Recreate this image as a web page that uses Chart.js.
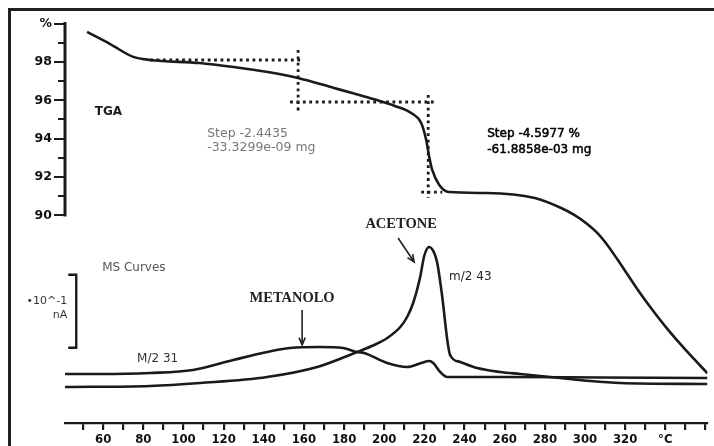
<!DOCTYPE html>
<html lang="en">
<head>
    <meta charset="UTF-8">
    <title>TGA-MS</title>
    <script src="https://cdn.jsdelivr.net/npm/chart.js"></script>
    <style>
        body {
            margin: 0;
            background: #fff;
        }
        .wrap {
            position: relative;
            width: 714px;
            height: 446px;
            overflow: hidden;
        }
        .frame {
            position: absolute;
            left: 8px;
            top: 8px;
            right: -10px;
            bottom: -10px;
            border-top: 3px solid #231f20;
            border-left: 3px solid #231f20;
            pointer-events: none;
        }
        canvas {
            position: absolute;
            left: 0;
            top: 0;
        }
    </style>
</head>
<body>

<div class="wrap">
    <canvas id="tgaChart" width="714" height="446"></canvas>
    <div class="frame"></div>
</div>

<script>
    // TGA mass loss (%) against temperature (°C)
    const tgaTemp = [52, 63.5, 75, 83.4, 108, 125, 142, 157, 175, 185, 195, 205, 214, 218.4, 220.9, 222.4, 223.9, 227.4, 232.3, 251, 275, 288.1, 294.6, 301.1, 306.1, 311.1, 316, 321, 326, 331, 341, 351, 361];
    const tgaMass = [99.56, 98.93, 98.26, 98.10, 97.94, 97.73, 97.47, 97.16, 96.64, 96.35, 96.05, 95.72, 95.30, 94.82, 93.93, 93.05, 92.37, 91.59, 91.22, 91.17, 90.91, 90.39, 90.03, 89.56, 89.09, 88.46, 87.73, 86.95, 86.17, 85.44, 84.09, 82.89, 81.78];

    // MS ion currents, in units of the 10^-1 nA scale bar
    const ms31Temp = [41, 58.5, 83.4, 104.8, 124.8, 141.7, 153.1, 168.1, 179.5, 186.5, 190, 201.5, 211.4, 218.4, 222.4, 224.4, 227.9, 231.4, 257.7, 307.5, 361];
    const ms31 = [0.671, 0.671, 0.685, 0.726, 0.863, 0.973, 1.027, 1.041, 1.027, 0.973, 0.959, 0.822, 0.767, 0.822, 0.849, 0.822, 0.699, 0.630, 0.630, 0.623, 0.616];
    const ms43Temp = [41, 83.4, 108.3, 141.7, 166.6, 186.5, 195, 201.5, 208, 211.4, 214.4, 217.9, 219.9, 222.4, 224.9, 226.4, 228.9, 231.4, 232.8, 237.8, 246.3, 257.7, 267.7, 287.6, 302.6, 317.5, 361];
    const ms43 = [0.493, 0.507, 0.548, 0.630, 0.767, 0.973, 1.068, 1.164, 1.315, 1.452, 1.644, 2.000, 2.288, 2.411, 2.329, 2.192, 1.726, 1.137, 0.932, 0.836, 0.753, 0.699, 0.671, 0.616, 0.575, 0.548, 0.534];

    // scale bar for the MS curves (one unit = 10^-1 nA)
    const barTemp = [42.6, 46.6, 46.6, 42.6];
    const barValue = [2.03, 2.03, 1.03, 1.03];

    // step evaluation lines (dotted)
    const stepTemp = [[83.4, 159.6], [157.1, 157.1], [153.1, 224.9], [221.9, 221.9], [218.4, 228.9]];
    const stepMass = [[98.10, 98.10], [98.62, 95.34], [95.91, 95.91], [96.28, 90.91], [91.22, 91.22]];

    // axis ticks and labels
    const xTickTemps = [50, 60, 70, 80, 90, 100, 110, 120, 130, 140, 150, 160, 170, 180, 190, 200, 210, 220, 230, 240, 250, 260, 270, 280, 290, 300, 310, 320, 330, 340, 350, 360];
    const xLabelTemps = [60, 80, 100, 120, 140, 160, 180, 200, 220, 240, 260, 280, 300, 320, 340];
    const xLabelText = ['60', '80', '100', '120', '140', '160', '180', '200', '220', '240', '260', '280', '300', '320', '°C'];
    const yTickValues = [90, 91, 92, 93, 94, 95, 96, 97, 98, 99, 100];
    const yLabelValues = [90, 92, 94, 96, 98, 100];
    const yLabelText = ['90', '92', '94', '96', '98', '%'];

    const INK = '#1a1a1a';
    const SANS = '"DejaVu Sans", sans-serif';
    const COND = '"DejaVu Sans Condensed", "DejaVu Sans", sans-serif';
    const SERIF = '"Liberation Serif", "DejaVu Serif", serif';

    function pts(xs, ys) {
        return xs.map((x, i) => ({ x: x, y: ys[i] }));
    }

    function curve(data, axis) {
        return {
            data: data,
            yAxisID: axis,
            showLine: true,
            borderColor: INK,
            borderWidth: 2.6,
            pointRadius: 0,
            cubicInterpolationMode: 'monotone',
            fill: false
        };
    }

    const datasets = [
        curve(pts(tgaTemp, tgaMass), 'y'),
        curve(pts(ms31Temp, ms31), 'ms'),
        curve(pts(ms43Temp, ms43), 'ms'),
        {
            data: pts(barTemp, barValue),
            yAxisID: 'ms',
            showLine: true,
            borderColor: INK,
            borderWidth: 2.4,
            pointRadius: 0,
            tension: 0
        }
    ];
    stepTemp.forEach((xs, i) => {
        datasets.push({
            data: pts(xs, stepMass[i]),
            yAxisID: 'y',
            showLine: true,
            borderColor: INK,
            borderWidth: 2.8,
            borderDash: [2.8, 3.6],
            pointRadius: 0,
            tension: 0
        });
    });

    function arrow(ctx, x0, y0, x1, y1) {
        const a = Math.atan2(y1 - y0, x1 - x0);
        const h = 8;
        ctx.beginPath();
        ctx.moveTo(x0, y0);
        ctx.lineTo(x1, y1);
        ctx.moveTo(x1 - h * Math.cos(a - 0.4), y1 - h * Math.sin(a - 0.4));
        ctx.lineTo(x1, y1);
        ctx.lineTo(x1 - h * Math.cos(a + 0.4), y1 - h * Math.sin(a + 0.4));
        ctx.stroke();
    }

    // texts placed in data coordinates: [text, temp, value, axis, align, font, colour, outline]
    const notes = [
        ['TGA', 55.8, 95.39, 'y', 'left', 'bold 12px ' + SANS, INK, 0],
        ['Step -2.4435', 111.8, 94.24, 'y', 'left', '12.5px ' + SANS, '#777', 0],
        ['-33.3299e-09 mg', 111.8, 93.54, 'y', 'left', '12.5px ' + SANS, '#777', 0],
        ['Step -4.5977 %', 251.3, 94.27, 'y', 'left', '12px ' + SANS, '#000', 0.5],
        ['-61.8858e-03 mg', 251.3, 93.41, 'y', 'left', '12px ' + SANS, '#000', 0.5],
        ['ACETONE', 208.4, 2.726, 'ms', 'center', 'bold 14.5px ' + SERIF, '#222', 0],
        ['m/2 43', 232.3, 2.0, 'ms', 'left', '12px ' + SANS, '#222', 0],
        ['MS Curves', 59.5, 2.123, 'ms', 'left', '12px ' + SANS, '#555', 0],
        ['•10^-1', 42.1, 1.671, 'ms', 'right', '11px ' + SANS, '#333', 0],
        ['nA', 42.1, 1.479, 'ms', 'right', '11px ' + SANS, '#333', 0],
        ['METANOLO', 154.1, 1.712, 'ms', 'center', 'bold 14.5px ' + SERIF, '#222', 0],
        ['M/2 31', 76.9, 0.877, 'ms', 'left', '12px ' + SANS, '#333', 0]
    ];

    const decorations = {
        id: 'decorations',
        afterDatasetsDraw(chart) {
            const ctx = chart.ctx;
            const sx = chart.scales.x;
            const sy = chart.scales.y;
            const sm = chart.scales.ms;
            const left = chart.chartArea.left;
            ctx.save();

            // TGA axis: line only spans 90..100 %, long ticks at labelled values
            ctx.strokeStyle = INK;
            ctx.lineWidth = 3;
            ctx.beginPath();
            ctx.moveTo(left, sy.getPixelForValue(90) + 1);
            ctx.lineTo(left, sy.getPixelForValue(100) - 1.5);
            ctx.stroke();
            ctx.lineWidth = 2;
            yTickValues.forEach(v => {
                const y = Math.round(sy.getPixelForValue(v));
                const len = yLabelValues.includes(v) ? 11 : 7;
                ctx.beginPath();
                ctx.moveTo(left - len, y);
                ctx.lineTo(left, y);
                ctx.stroke();
            });

            notes.forEach(n => {
                const scale = n[3] === 'y' ? sy : sm;
                const px = sx.getPixelForValue(n[1]);
                const py = scale.getPixelForValue(n[2]);
                ctx.font = n[5];
                ctx.fillStyle = n[6];
                ctx.textAlign = n[4];
                ctx.textBaseline = 'middle';
                ctx.fillText(n[0], px, py);
                if (n[7]) {
                    ctx.lineWidth = n[7];
                    ctx.strokeStyle = n[6];
                    ctx.strokeText(n[0], px, py);
                }
            });

            ctx.lineWidth = 1.6;
            ctx.strokeStyle = '#222';
            arrow(ctx, sx.getPixelForValue(206.9), sm.getPixelForValue(2.534), sx.getPixelForValue(214.9), sm.getPixelForValue(2.205));
            arrow(ctx, sx.getPixelForValue(159.1), sm.getPixelForValue(1.548), sx.getPixelForValue(159.1), sm.getPixelForValue(1.068));
            ctx.restore();
        }
    };

    new Chart(document.getElementById('tgaChart').getContext('2d'), {
        type: 'scatter',
        data: { datasets: datasets },
        plugins: [decorations],
        options: {
            responsive: false,
            animation: false,
            devicePixelRatio: 1,
            layout: { padding: { top: 23.5, right: 6.5, left: 0, bottom: 0 } },
            plugins: { legend: { display: false }, tooltip: { enabled: false } },
            scales: {
                x: {
                    type: 'linear',
                    min: 41,
                    max: 361,
                    afterBuildTicks: s => { s.ticks = xTickTemps.map(v => ({ value: v })); },
                    afterFit: s => { s.height = 23; },
                    border: { display: true, width: 2.2, color: INK },
                    grid: { drawOnChartArea: false, drawTicks: true, tickLength: 7, lineWidth: 2.2, color: INK },
                    ticks: {
                        autoSkip: false,
                        maxRotation: 0,
                        padding: 2,
                        color: '#111',
                        font: { family: COND, size: 13, weight: 'bold' },
                        callback: v => {
                            const i = xLabelTemps.indexOf(v);
                            return i < 0 ? '' : xLabelText[i];
                        }
                    }
                },
                y: {
                    type: 'linear',
                    position: 'left',
                    min: 79.19,
                    max: 100,
                    afterBuildTicks: s => { s.ticks = yTickValues.map(v => ({ value: v })); },
                    afterFit: s => { s.width = 65; },
                    border: { display: false },
                    grid: { drawOnChartArea: false, drawTicks: false },
                    ticks: {
                        autoSkip: false,
                        padding: 13,
                        color: '#111',
                        font: { family: SANS, size: 12.5, weight: 'bold' },
                        callback: v => {
                            const i = yLabelValues.indexOf(v);
                            return i < 0 ? '' : yLabelText[i];
                        }
                    }
                },
                ms: {
                    type: 'linear',
                    display: false,
                    min: 0,
                    max: 5.473
                }
            }
        }
    });
</script>

</body>
</html>
